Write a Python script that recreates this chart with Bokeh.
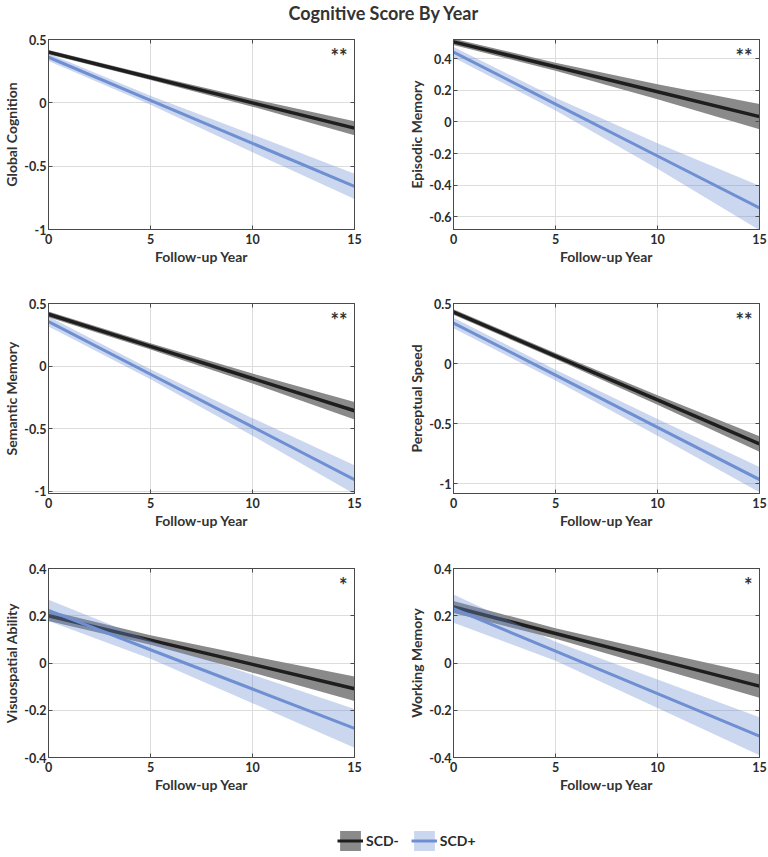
from bokeh.plotting import figure
from bokeh.layouts import column, row
from bokeh.models import (ColumnDataSource, FixedTicker, CustomJSTickFormatter, Label,
                          Legend, LegendItem, Range1d, LinearAxis)
from bokeh.embed import file_html
from bokeh.resources import INLINE
from bokeh.core.properties import value

# ---------------- data ----------------
YEARS = [0, 5, 10, 15]
X_TICKS = [0, 5, 10, 15]

GC_NEG = [0.40, 0.20, 0.00, -0.20]
GC_NEG_CI = [0.017, 0.02, 0.03, 0.055]
GC_POS = [0.36, 0.02, -0.32, -0.66]
GC_POS_CI = [0.03, 0.035, 0.07, 0.10]

EM_NEG = [0.505, 0.348, 0.19, 0.033]
EM_NEG_CI = [0.02, 0.025, 0.048, 0.08]
EM_POS = [0.44, 0.112, -0.216, -0.544]
EM_POS_CI = [0.033, 0.04, 0.08, 0.14]

SM_NEG = [0.414, 0.157, -0.10, -0.358]
SM_NEG_CI = [0.023, 0.025, 0.04, 0.07]
SM_POS = [0.356, -0.066, -0.487, -0.909]
SM_POS_CI = [0.04, 0.04, 0.07, 0.115]

PS_NEG = [0.429, 0.063, -0.302, -0.668]
PS_NEG_CI = [0.023, 0.025, 0.04, 0.065]
PS_POS = [0.338, -0.096, -0.530, -0.964]
PS_POS_CI = [0.044, 0.045, 0.07, 0.105]

VA_NEG = [0.20, 0.097, -0.006, -0.109]
VA_NEG_CI = [0.022, 0.02, 0.035, 0.052]
VA_POS = [0.223, 0.056, -0.110, -0.277]
VA_POS_CI = [0.045, 0.038, 0.06, 0.082]

WM_NEG = [0.237, 0.125, 0.013, -0.098]
WM_NEG_CI = [0.025, 0.022, 0.035, 0.049]
WM_POS = [0.23, 0.05, -0.13, -0.31]
WM_POS_CI = [0.06, 0.04, 0.06, 0.08]

Y_LABELS = ["Global Cognition", "Episodic Memory", "Semantic Memory",
            "Perceptual Speed", "Visuospatial Ability", "Working Memory"]
Y_RANGES = [(-1.0, 0.5), (-0.68, 0.52), (-1.02, 0.5), (-1.08, 0.5), (-0.4, 0.4), (-0.4, 0.4)]
Y_TICKS = [[-1, -0.5, 0, 0.5], [-0.6, -0.4, -0.2, 0, 0.2, 0.4], [-1, -0.5, 0, 0.5],
           [-1, -0.5, 0, 0.5], [-0.4, -0.2, 0, 0.2, 0.4], [-0.4, -0.2, 0, 0.2, 0.4]]
STARS = ["**", "**", "**", "**", "*", "*"]
GROUPS = ["SCD-", "SCD+"]
TITLE = "Cognitive Score By Year"

SERIES = [(GC_NEG, GC_NEG_CI, GC_POS, GC_POS_CI), (EM_NEG, EM_NEG_CI, EM_POS, EM_POS_CI),
          (SM_NEG, SM_NEG_CI, SM_POS, SM_POS_CI), (PS_NEG, PS_NEG_CI, PS_POS, PS_POS_CI),
          (VA_NEG, VA_NEG_CI, VA_POS, VA_POS_CI), (WM_NEG, WM_NEG_CI, WM_POS, WM_POS_CI)]

# ---------------- style ----------------
FONT = "Lato"
AX = "#4a4a4a"
TXT = "#2b2b2b"
GRID = "#dcdcdc"
NEG_LINE = "#1e1e1e"
NEG_BAND = "#8a8a8a"
POS_LINE = "#6e8fd2"
POS_BAND_ALPHA = 0.36

fmt_code = "return String(Math.round(tick*100)/100);"


def style_axis(ax):
    ax.axis_line_color = AX
    ax.major_tick_line_color = AX
    ax.major_tick_in = 4
    ax.major_tick_out = 0
    ax.minor_tick_line_color = None
    ax.major_label_text_font = FONT
    ax.major_label_text_font_style = "bold"
    ax.major_label_text_font_size = "12.5px"
    ax.major_label_text_color = TXT
    ax.axis_label_text_font = FONT
    ax.axis_label_text_font_style = "bold"
    ax.axis_label_text_font_size = "14px"
    ax.axis_label_text_color = "#333333"


def make_panel(i, width, height, bl, br, bt, bb):
    y0, y1 = Y_RANGES[i]
    neg, neg_ci, pos, pos_ci = SERIES[i]
    p = figure(width=width, height=height, x_range=Range1d(0, 15), y_range=Range1d(y0, y1),
               output_backend="svg", toolbar_location=None,
               min_border_left=bl, min_border_right=br, min_border_top=bt, min_border_bottom=bb)
    p.outline_line_color = AX
    p.background_fill_color = "white"
    p.xaxis.ticker = FixedTicker(ticks=X_TICKS)
    p.yaxis.ticker = FixedTicker(ticks=Y_TICKS[i])
    p.xaxis.formatter = CustomJSTickFormatter(code=fmt_code)
    p.yaxis.formatter = CustomJSTickFormatter(code=fmt_code)
    p.xaxis.axis_label = "Follow-up Year"
    p.yaxis.axis_label = Y_LABELS[i]
    style_axis(p.xaxis[0])
    style_axis(p.yaxis[0])
    p.xaxis.major_label_standoff = 4
    p.yaxis.major_label_standoff = 2
    p.xaxis.axis_label_standoff = 1
    p.yaxis.axis_label_standoff = 1
    p.grid.grid_line_color = GRID
    p.grid.grid_line_width = 1

    # ticks on the opposite sides (box style)
    for loc, tks in (("right", Y_TICKS[i]), ("above", X_TICKS)):
        a = LinearAxis(ticker=FixedTicker(ticks=tks),
                       formatter=CustomJSTickFormatter(code="return '';"))
        style_axis(a)
        a.major_label_standoff = 0
        a.major_label_text_font_size = "1px"
        p.add_layout(a, loc)

    src = ColumnDataSource(dict(
        x=YEARS, neg=neg, pos=pos,
        neg_lo=[m - c for m, c in zip(neg, neg_ci)], neg_hi=[m + c for m, c in zip(neg, neg_ci)],
        pos_lo=[m - c for m, c in zip(pos, pos_ci)], pos_hi=[m + c for m, c in zip(pos, pos_ci)],
    ))
    p.varea(x="x", y1="neg_lo", y2="neg_hi", source=src, fill_color=NEG_BAND, fill_alpha=1.0)
    p.line(x="x", y="neg", source=src, line_color=NEG_LINE, line_width=3.5)
    p.varea(x="x", y1="pos_lo", y2="pos_hi", source=src, fill_color=POS_LINE, fill_alpha=POS_BAND_ALPHA)
    p.line(x="x", y="pos", source=src, line_color=POS_LINE, line_width=3)

    p.add_layout(Label(x=15, y=y1, text=STARS[i], text_align="right", text_baseline="top",
                       x_offset=-7, y_offset=-4, text_font=FONT, text_font_style="bold",
                       text_font_size="20px", text_color="#333333"))
    return p


# ---------------- title ----------------
tfig = figure(width=767, height=34, x_range=Range1d(0, 1), y_range=Range1d(0, 34),
              x_axis_type=None, y_axis_type=None, output_backend="svg", toolbar_location=None,
              min_border=0)
tfig.outline_line_color = None
tfig.grid.visible = False
tfig.text(x=[0.5], y=[22], text=[TITLE], text_align="center", text_baseline="middle",
          text_font=value(FONT), text_font_style="bold", text_font_size="18px", text_color="#333333")

# ---------------- panels ----------------
rows = []
row_geom = [(264, 5, 69), (265, 5, 70), (232, 5, 36)]
for r, (h, bt, bb) in enumerate(row_geom):
    left = make_panel(2 * r, 405, h, 46, 51, bt, bb)
    right = make_panel(2 * r + 1, 362, h, 46, 8, bt, bb)
    rows.append(row(left, right))

# ---------------- legend ----------------
lfig = figure(width=767, height=62, x_range=Range1d(0, 1), y_range=Range1d(0, 1),
              x_axis_type=None, y_axis_type=None, output_backend="svg", toolbar_location=None,
              min_border=0)
lfig.outline_line_color = None
lfig.grid.visible = False
hidden = ColumnDataSource(dict(x=[5, 6], y=[5, 5], y1=[5, 5], y2=[6, 6]))
nb = lfig.varea(x="x", y1="y1", y2="y2", source=hidden, fill_color=NEG_BAND, fill_alpha=1.0)
nl = lfig.line(x="x", y="y", source=hidden, line_color=NEG_LINE, line_width=3)
pb = lfig.varea(x="x", y1="y1", y2="y2", source=hidden, fill_color=POS_LINE, fill_alpha=POS_BAND_ALPHA)
pl = lfig.line(x="x", y="y", source=hidden, line_color=POS_LINE, line_width=3)
leg = Legend(items=[LegendItem(label=GROUPS[0], renderers=[nb, nl]),
                    LegendItem(label=GROUPS[1], renderers=[pb, pl])],
             orientation="horizontal", location=(337, 4), glyph_width=26, glyph_height=25,
             padding=0, margin=0, spacing=12, label_standoff=3,
             border_line_color=None, background_fill_alpha=0,
             label_text_font=FONT, label_text_font_style="bold", label_text_font_size="14px",
             label_text_color=TXT)
lfig.add_layout(leg)

layout = column(tfig, *rows, lfig)
open("out.html", "w").write(file_html(layout, INLINE))
